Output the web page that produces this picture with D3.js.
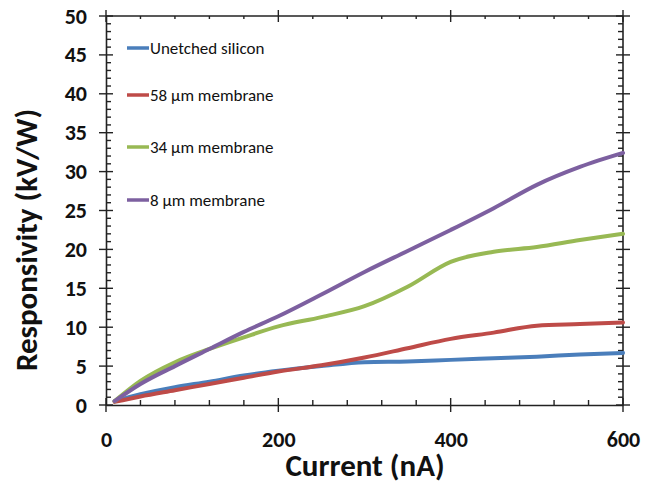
<!DOCTYPE html>
<html><head><meta charset="utf-8">
<script src="https://cdn.jsdelivr.net/npm/d3@7"></script>
<style>
body{margin:0;background:#fff;}
svg{display:block;}
</style></head>
<body>
<svg id="chart" width="656" height="485"></svg>
<script>
const currents = [10, 40, 80, 120, 160, 200, 250, 300, 350, 400, 450, 500, 550, 600];
const unetched = [0.5, 1.4, 2.3, 3.0, 3.8, 4.4, 5.0, 5.5, 5.6, 5.8, 6.0, 6.2, 6.5, 6.7];
const mem58 = [0.4, 1.1, 1.9, 2.7, 3.5, 4.3, 5.1, 6.1, 7.3, 8.5, 9.3, 10.2, 10.4, 10.6];
const mem34 = [0.5, 3.1, 5.5, 7.2, 8.7, 10.1, 11.3, 12.7, 15.2, 18.4, 19.7, 20.3, 21.2, 22.0];
const mem8 = [0.5, 2.7, 5.0, 7.2, 9.4, 11.4, 14.2, 17.1, 19.8, 22.5, 25.3, 28.3, 30.6, 32.4];
const seriesNames = ["Unetched silicon", "58 \u03bcm membrane", "34 \u03bcm membrane", "8 \u03bcm membrane"];
const seriesColors = ["#4a7ebb", "#be4b48", "#98b954", "#7d60a0"];
const seriesValues = [unetched, mem58, mem34, mem8];
const xTicks = [0, 200, 400, 600];
const yTicks = [0, 5, 10, 15, 20, 25, 30, 35, 40, 45, 50];

const svg = d3.select("#chart");
const L = 106, R = 623, T = 16, B = 405;
const x = d3.scaleLinear().domain([0, 600]).range([L, R]);
const y = d3.scaleLinear().domain([0, 50]).range([B, T]);

const axisColor = "#222";
const font = "Carlito, Calibri, Lato, 'Open Sans', sans-serif";

const xMinor = d3.range(0, 601, 40).filter(v => v % 200 !== 0);
const yMinor = d3.range(0, 51, 1).filter(v => v % 5 !== 0);

const gB = svg.append("g").attr("transform", `translate(0,${B})`)
  .call(d3.axisBottom(x).tickValues(xTicks).tickSize(0).tickPadding(26).tickFormat(d3.format("d")));
const gL = svg.append("g").attr("transform", `translate(${L},0)`)
  .call(d3.axisLeft(y).tickValues(yTicks).tickSize(0).tickPadding(19).tickFormat(d3.format("d")));
[gB, gL].forEach(g => {
  g.select(".domain").attr("stroke", axisColor).attr("stroke-width", 1.6);
  g.selectAll("text").attr("font-family", font).attr("font-weight", "bold").attr("font-size", 22).attr("fill", "#111");
});

svg.append("line").attr("x1", L).attr("x2", R).attr("y1", T).attr("y2", T).attr("stroke", axisColor).attr("stroke-width", 1.6);
svg.append("line").attr("x1", R).attr("x2", R).attr("y1", T).attr("y2", B).attr("stroke", axisColor).attr("stroke-width", 1.6);

const tickG = svg.append("g").attr("stroke", axisColor).attr("stroke-width", 1.4);
xTicks.forEach(v => {
  tickG.append("line").attr("x1", x(v)).attr("x2", x(v)).attr("y1", B - 7).attr("y2", B + 7);
  tickG.append("line").attr("x1", x(v)).attr("x2", x(v)).attr("y1", T - 6).attr("y2", T + 6);
});
xMinor.forEach(v => {
  tickG.append("line").attr("x1", x(v)).attr("x2", x(v)).attr("y1", B - 5).attr("y2", B);
  tickG.append("line").attr("x1", x(v)).attr("x2", x(v)).attr("y1", T).attr("y2", T + 3);
});
yTicks.forEach(v => {
  tickG.append("line").attr("x1", L - 7).attr("x2", L + 7).attr("y1", y(v)).attr("y2", y(v));
  tickG.append("line").attr("x1", R - 7).attr("x2", R + 7).attr("y1", y(v)).attr("y2", y(v));
});
yMinor.forEach(v => {
  tickG.append("line").attr("x1", L).attr("x2", L + 5).attr("y1", y(v)).attr("y2", y(v));
  tickG.append("line").attr("x1", R - 5).attr("x2", R).attr("y1", y(v)).attr("y2", y(v));
});

const line = d3.line().x((d, i) => x(currents[i])).y(d => y(d)).curve(d3.curveMonotoneX);
seriesValues.forEach((vals, k) => {
  svg.append("path").datum(vals).attr("d", line).attr("fill", "none")
    .attr("stroke", seriesColors[k]).attr("stroke-width", 4).attr("stroke-linecap", "round");
});

const legendY = [48, 95, 147, 200];
seriesNames.forEach((name, k) => {
  svg.append("line").attr("x1", 127).attr("x2", 149).attr("y1", legendY[k]).attr("y2", legendY[k])
    .attr("stroke", seriesColors[k]).attr("stroke-width", 3.5);
  svg.append("text").attr("x", 150).attr("y", legendY[k] + 6).text(name)
    .attr("font-family", font).attr("font-size", 17).attr("fill", "#111");
});

svg.append("text").attr("x", 365).attr("y", 476).attr("text-anchor", "middle")
  .attr("font-family", font).attr("font-weight", "bold").attr("font-size", 31).attr("fill", "#111")
  .text("Current (nA)");
svg.append("text").attr("transform", "translate(37,240) rotate(-90)").attr("text-anchor", "middle")
  .attr("font-family", font).attr("font-weight", "bold").attr("font-size", 31).attr("fill", "#111")
  .text("Responsivity (kV/W)");
</script>
</body></html>
